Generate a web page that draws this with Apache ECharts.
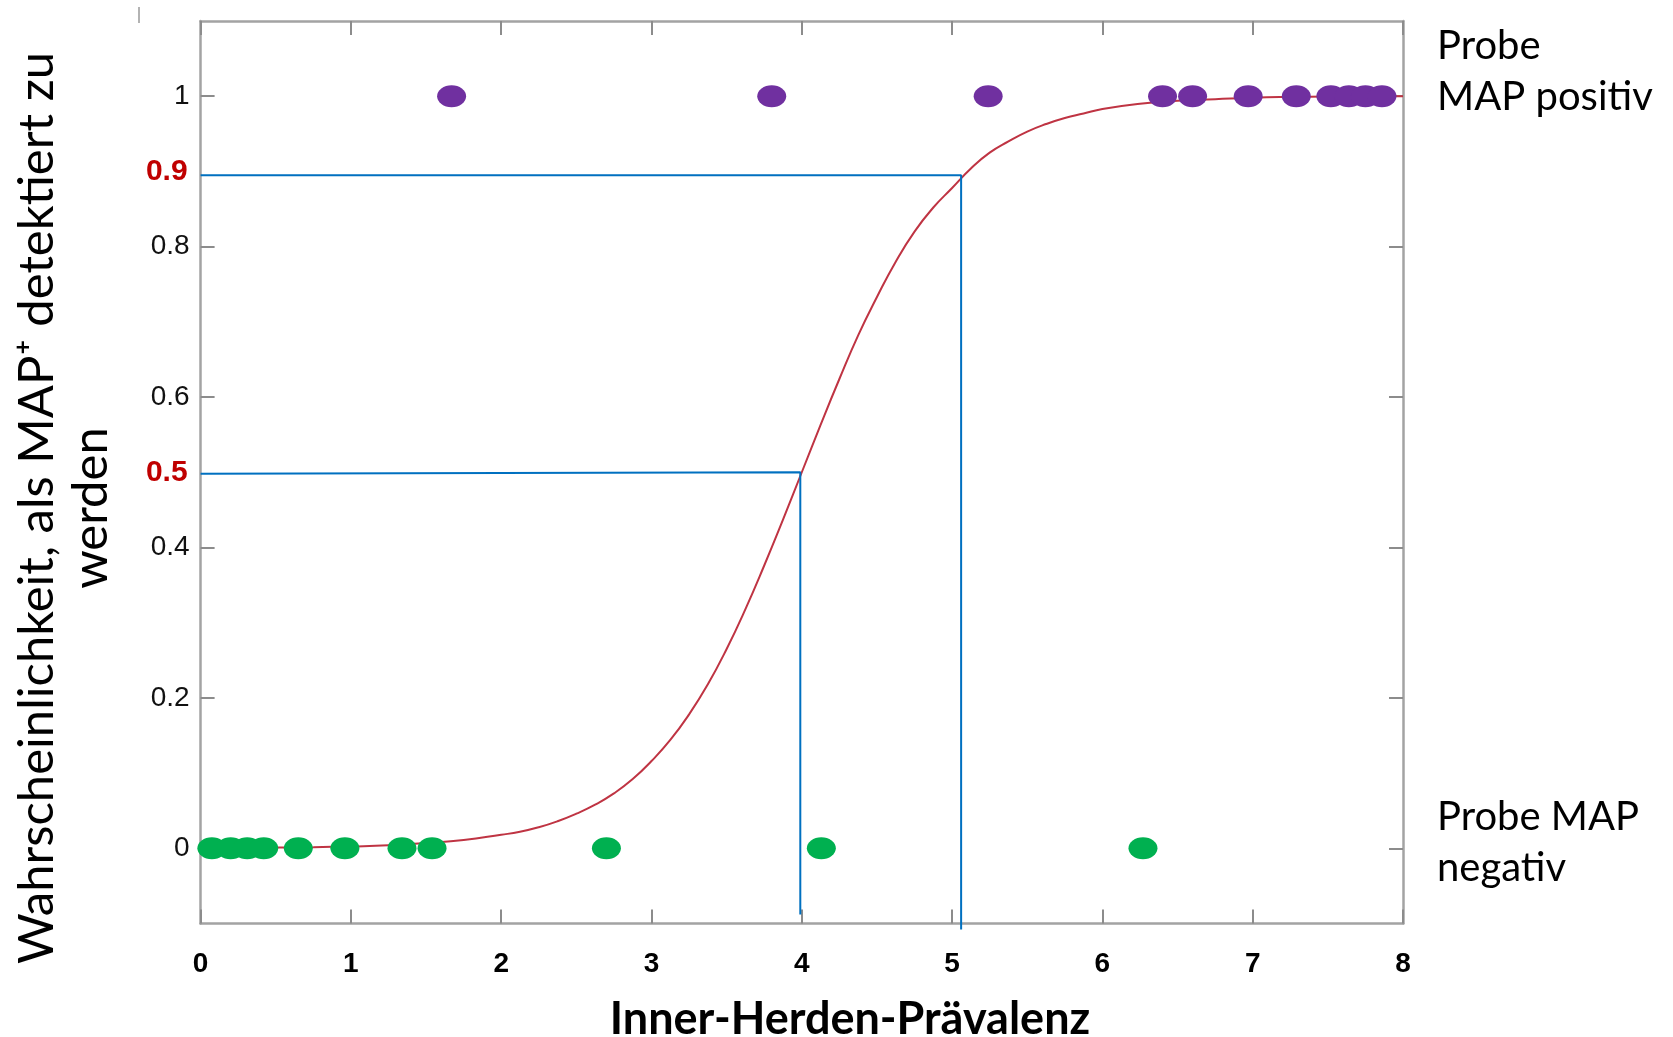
<!DOCTYPE html>
<html>
<head>
<meta charset="utf-8">
<script src="https://cdn.jsdelivr.net/npm/echarts@6/dist/echarts.min.js"></script>
<style>
  html, body { margin: 0; padding: 0; background: #fff; }
  #main { width: 1673px; height: 1037px; }
</style>
</head>
<body>
<div id="main"></div>
<script>
  var curveX = [0, 0.25, 0.5, 0.75, 1, 1.25, 1.5, 1.75, 2, 2.125, 2.25, 2.375, 2.5, 2.625, 2.75, 2.875,
                3, 3.125, 3.25, 3.375, 3.5, 3.625, 3.75, 3.875, 4, 4.125, 4.25, 4.375, 4.5, 4.625,
                4.75, 4.875, 5, 5.125, 5.25, 5.375, 5.5, 5.625, 5.75, 5.875, 6,
                6.25, 6.5, 6.75, 7, 7.25, 7.5, 7.75, 8];
  var curveY = [0.0003, 0.0005, 0.001, 0.0015, 0.0025, 0.004, 0.007, 0.011, 0.018, 0.022, 0.028, 0.036,
                0.046, 0.058, 0.073, 0.092, 0.116, 0.144, 0.178, 0.218, 0.265, 0.318, 0.376, 0.437,
                0.5, 0.563, 0.624, 0.682, 0.733, 0.78, 0.82, 0.852, 0.878, 0.904, 0.925, 0.94,
                0.953, 0.963, 0.971, 0.977, 0.983,
                0.99, 0.994, 0.996, 0.998, 0.999, 0.9995, 1, 1];

  // Proben
  var posX = [1.67, 3.8, 5.24, 6.4, 6.6, 6.97, 7.29, 7.52, 7.64, 7.75, 7.86];
  var negX = [0.075, 0.2, 0.31, 0.42, 0.65, 0.96, 1.34, 1.54, 2.7, 4.13, 6.27];

  // Achsen
  var yTickValues = [0, 0.2, 0.4, 0.6, 0.8, 1];
  var yLabelValues = [0, 0.2, 0.4, 0.5, 0.6, 0.8, 0.9, 1];
  var markedY = [0.5, 0.9];

  // Hilfslinien (blau)
  var guide90 = [[0, 0.895], [5.06, 0.895], [5.06, -0.108]];
  var guide50 = [[0, 0.498], [3.99, 0.5], [3.99, -0.088]];

  var frameGray = '#a3a3a3';
  var tickGray = '#8c8c8c';

  function zip(xs, ys) {
    return xs.map(function (x, i) { return [x, ys[i]]; });
  }

  var chart = echarts.init(document.getElementById('main'));

  var xBase = {
    type: 'value', min: 0, max: 8, interval: 1,
    axisLine: { show: true, onZero: false, lineStyle: { color: frameGray, width: 2.5 } },
    axisTick: { show: true, inside: true, length: 14, lineStyle: { color: tickGray, width: 2 } },
    splitLine: { show: false }
  };
  var yBase = {
    type: 'value', min: -0.1, max: 1.1,
    axisLine: { show: true, onZero: false, lineStyle: { color: frameGray, width: 2.5 } },
    axisTick: { show: true, inside: true, length: 14, customValues: yTickValues,
                lineStyle: { color: tickGray, width: 2 } },
    splitLine: { show: false }
  };

  var option = {
    animation: false,
    backgroundColor: '#fff',
    grid: { left: 200.6, right: 270, top: 21, bottom: 113.5 },
    xAxis: [
      Object.assign({}, xBase, {
        position: 'bottom',
        axisLabel: { show: true, margin: 27, color: '#000', fontSize: 28, fontWeight: 'bold',
                     fontFamily: 'Liberation Sans' }
      }),
      Object.assign({}, xBase, { position: 'top', axisLabel: { show: false } })
    ],
    yAxis: [
      Object.assign({}, yBase, {
        position: 'left',
        axisLabel: {
          show: true, margin: 11, customValues: yLabelValues, fontSize: 28,
          fontFamily: 'Liberation Sans',
          formatter: function (v) {
            return markedY.indexOf(v) >= 0 ? '{red|' + v + '}' : '{n|' + v + '}';
          },
          rich: {
            n: { fontSize: 28, color: '#111', fontFamily: 'Liberation Sans' },
            red: { fontSize: 30, color: '#c00000', fontWeight: 'bold', fontFamily: 'Liberation Sans',
                   padding: [0, 2, 0, 0] }
          }
        }
      }),
      Object.assign({}, yBase, { position: 'right', axisLabel: { show: false } })
    ],
    series: [
      {
        type: 'line', data: zip(curveX, curveY), smooth: true, showSymbol: false,
        lineStyle: { color: '#bf3443', width: 2 }, z: 2
      },
      {
        type: 'line', data: guide90, showSymbol: false, clip: false,
        lineStyle: { color: '#0070c0', width: 2 }, z: 3
      },
      {
        type: 'line', data: guide50, showSymbol: false, clip: false,
        lineStyle: { color: '#0070c0', width: 2 }, z: 3
      },
      {
        type: 'scatter', data: posX.map(function (x) { return [x, 1]; }),
        symbol: 'circle', symbolSize: [29, 22], itemStyle: { color: '#7030a0', opacity: 1 }, z: 5
      },
      {
        type: 'scatter', data: negX.map(function (x) { return [x, 0]; }),
        symbol: 'circle', symbolSize: [29, 22], itemStyle: { color: '#00b050', opacity: 1 }, z: 5
      }
    ],
    graphic: [
      {
        type: 'text', x: 64, y: 508, rotation: Math.PI / 2,
        style: {
          text: 'Wahrscheinlichkeit, als MAP\u207A detektiert zu\nwerden',
          fontSize: 49, lineHeight: 54, fontFamily: 'Lato', fill: '#000',
          align: 'center', verticalAlign: 'middle'
        }
      },
      {
        type: 'text', x: 850, y: 1019,
        style: {
          text: 'Inner-Herden-Prävalenz', fontSize: 45, fontWeight: 'bold', fontFamily: 'Lato',
          fill: '#000', align: 'center', verticalAlign: 'middle'
        }
      },
      {
        type: 'text', x: 1437, y: 72,
        style: {
          text: 'Probe\nMAP positiv', fontSize: 40, lineHeight: 51, fontFamily: 'Lato',
          fill: '#000', align: 'left', verticalAlign: 'middle'
        }
      },
      {
        type: 'text', x: 1437, y: 843,
        style: {
          text: 'Probe MAP\nnegativ', fontSize: 40, lineHeight: 51, fontFamily: 'Lato',
          fill: '#000', align: 'left', verticalAlign: 'middle'
        }
      },
      {
        type: 'line', shape: { x1: 139, y1: 7, x2: 139, y2: 23 },
        style: { stroke: '#9a9a9a', lineWidth: 1.5 }
      }
    ]
  };

  chart.setOption(option);
</script>
</body>
</html>
